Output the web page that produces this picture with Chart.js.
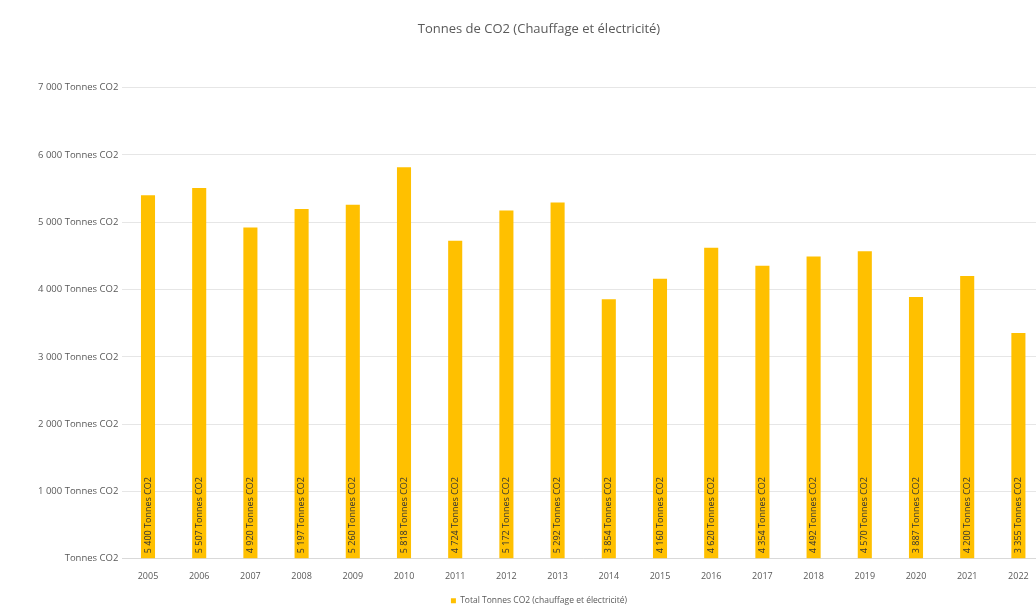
<!DOCTYPE html>
<html lang="fr">
<head>
    <meta charset="UTF-8">
    <title>Tonnes de CO2</title>
    <script src="https://cdn.jsdelivr.net/npm/chart.js"></script>
    <style>
        html, body {
            margin: 0;
            padding: 0;
            background: #ffffff;
            overflow: hidden;
        }
        #wrap {
            width: 1056px;
            height: 615px;
        }
    </style>
</head>
<body>
    <div id="wrap"><canvas id="co2Chart" width="1056" height="615"></canvas></div>

    <script>
        // Data
        const years = ['2005', '2006', '2007', '2008', '2009', '2010', '2011', '2012', '2013',
                       '2014', '2015', '2016', '2017', '2018', '2019', '2020', '2021', '2022'];
        const tonnes = [5400, 5507, 4920, 5197, 5260, 5818, 4724, 5172, 5292,
                        3854, 4160, 4620, 4354, 4492, 4570, 3887, 4200, 3355];
        const yTicks = [0, 1000, 2000, 3000, 4000, 5000, 6000, 7000];

        const fmt = v => v === 0 ? 'Tonnes CO2' : v.toString().replace(/\B(?=(\d{3})+(?!\d))/g, ' ') + ' Tonnes CO2';
        const fontFamily = "'Open Sans', 'Liberation Sans', sans-serif";

        // labels written vertically inside each bar, from the bottom up
        const barLabels = {
            id: 'barLabels',
            afterDatasetsDraw(chart) {
                const ctx = chart.ctx;
                const meta = chart.getDatasetMeta(0);
                ctx.save();
                ctx.font = '9px ' + fontFamily;
                ctx.fillStyle = '#333333';
                ctx.textAlign = 'left';
                ctx.textBaseline = 'middle';
                meta.data.forEach((bar, i) => {
                    ctx.save();
                    ctx.translate(bar.x, bar.base - 5);
                    ctx.rotate(-Math.PI / 2);
                    ctx.fillText(fmt(tonnes[i]), 0, 0);
                    ctx.restore();
                });
                ctx.restore();
            }
        };

        new Chart(document.getElementById('co2Chart'), {
            type: 'bar',
            data: {
                labels: years,
                datasets: [{
                    label: 'Total Tonnes CO2 (chauffage et électricité)',
                    data: tonnes,
                    backgroundColor: '#FFC000',
                    barPercentage: 0.55,
                    categoryPercentage: 0.5
                }]
            },
            options: {
                responsive: false,
                animation: false,
                layout: { padding: { left: 34, right: 12, top: 13, bottom: 0 } },
                plugins: {
                    title: {
                        display: true,
                        text: 'Tonnes de CO2 (Chauffage et électricité)',
                        color: '#595959',
                        font: { family: fontFamily, size: 13, weight: 'normal' },
                        padding: { top: 8, bottom: 51 }
                    },
                    legend: {
                        position: 'bottom',
                        labels: {
                            color: '#595959',
                            font: { family: fontFamily, size: 8.5 },
                            boxWidth: 5,
                            boxHeight: 5,
                            padding: 11
                        }
                    },
                    tooltip: { enabled: false }
                },
                scales: {
                    x: {
                        grid: { display: false },
                        border: { color: '#d9d9d9' },
                        ticks: {
                            color: '#595959',
                            font: { family: fontFamily, size: 9 },
                            maxRotation: 0,
                            padding: 4
                        }
                    },
                    y: {
                        min: 0,
                        max: 7000,
                        afterBuildTicks: axis => {
                            axis.ticks = yTicks.map(v => ({ value: v }));
                        },
                        grid: { color: '#e6e6e6', drawTicks: false },
                        border: { display: false },
                        ticks: {
                            color: '#595959',
                            font: { family: fontFamily, size: 9.5 },
                            padding: 4,
                            callback: v => fmt(v)
                        }
                    }
                }
            },
            plugins: [barLabels]
        });
    </script>
</body>
</html>
